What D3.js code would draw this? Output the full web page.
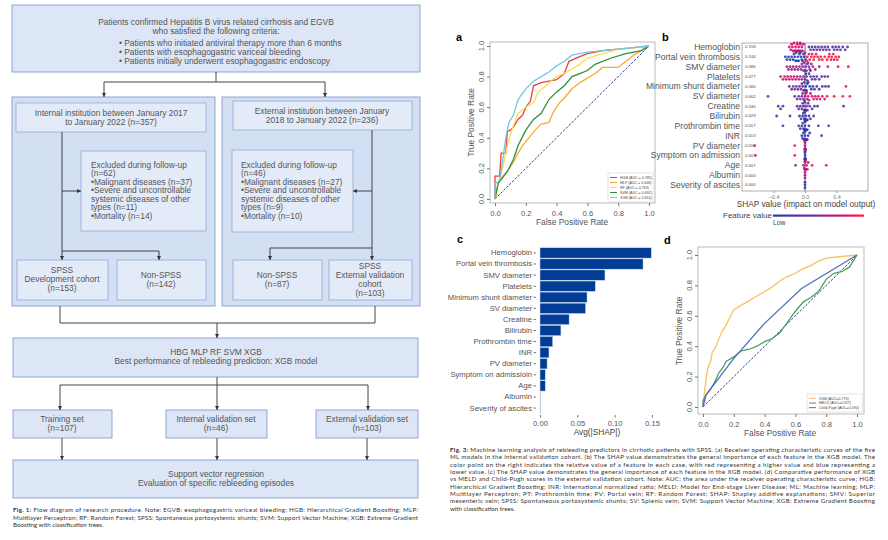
<!DOCTYPE html>
<html><head><meta charset="utf-8">
<script src="https://cdn.jsdelivr.net/npm/d3@7"></script>
<style>body{margin:0;background:#fff}svg{display:block}text{font-family:"Liberation Sans",Arial,sans-serif}</style>
</head><body><svg id="fig" width="888" height="540"></svg>
<script>
// ---- data ----
var rocModels = ["HGB", "MLP", "RF", "SVM", "XGB"];
var rocAucs = ["0.785", "0.648", "0.763", "0.692", "0.814"];
var rocColors = ["#ee3d3d", "#fba832", "#f7e04a", "#2f8f3f", "#72c8e2"];
var hgbRoc = [[0,0],[0,0.15],[0.03,0.15],[0.04,0.3],[0.07,0.3],[0.08,0.44],[0.1,0.45],[0.12,0.47],[0.15,0.52],[0.18,0.55],[0.2,0.6],[0.23,0.64],[0.25,0.74],[0.3,0.76],[0.35,0.77],[0.4,0.78],[0.45,0.82],[0.48,0.9],[0.55,0.93],[0.6,0.95],[0.7,0.97],[0.8,0.98],[0.9,0.99],[1,1]];
var mlpRoc = [[0,0],[0.02,0.1],[0.05,0.15],[0.08,0.18],[0.12,0.24],[0.15,0.3],[0.18,0.35],[0.22,0.4],[0.26,0.45],[0.3,0.49],[0.35,0.5],[0.38,0.57],[0.42,0.63],[0.45,0.66],[0.5,0.72],[0.55,0.76],[0.6,0.79],[0.65,0.82],[0.7,0.86],[0.8,0.86],[0.85,0.9],[0.9,0.94],[0.95,0.97],[1,1]];
var rfRoc = [[0,0],[0.02,0.1],[0.05,0.2],[0.08,0.35],[0.1,0.42],[0.12,0.48],[0.15,0.56],[0.2,0.6],[0.25,0.63],[0.28,0.7],[0.32,0.73],[0.35,0.76],[0.4,0.8],[0.45,0.82],[0.5,0.85],[0.55,0.88],[0.6,0.92],[0.7,0.95],[0.8,0.98],[0.9,0.99],[1,1]];
var svmRoc = [[0,0],[0.02,0.1],[0.05,0.14],[0.08,0.18],[0.12,0.26],[0.15,0.35],[0.2,0.45],[0.25,0.52],[0.3,0.56],[0.35,0.65],[0.4,0.7],[0.45,0.74],[0.5,0.8],[0.55,0.82],[0.6,0.84],[0.65,0.88],[0.75,0.92],[0.85,0.95],[0.95,0.97],[1,1]];
var xgbRoc = [[0,0],[0,0.1],[0.03,0.12],[0.05,0.25],[0.07,0.4],[0.09,0.5],[0.12,0.55],[0.15,0.65],[0.2,0.72],[0.25,0.77],[0.3,0.8],[0.35,0.83],[0.4,0.87],[0.45,0.9],[0.5,0.94],[0.6,0.96],[0.7,0.97],[0.8,0.98],[0.9,0.99],[1,1]];
var rocTicks = [0, 0.2, 0.4, 0.6, 0.8, 1.0];

var shapFeatures = ["Hemoglobin","Portal vein thrombosis","SMV diameter","Platelets","Minimum shunt diameter","SV diameter","Creatine","Bilirubin","Prothrombin time","INR","PV diameter","Symptom on admission","Age","Albumin","Severity of ascites"];
var shapMeans = ["0.158","0.144","0.086","0.077","0.066","0.062","0.040","0.029","0.017","0.013","0.010","0.007","0.007","0.000","0.000"];
// [shap value, normalised feature value]
var shapPoints = [
 [[-0.2,0.8],[-0.18,0.75],[-0.17,0.8],[-0.16,0.7],[-0.15,0.8],[-0.14,0.75],[-0.13,0.8],[-0.12,0.85],[-0.12,0.7],[-0.11,0.8],[-0.1,0.75],[-0.1,0.9],[-0.09,0.8],[-0.08,0.75],[-0.08,0.8],[-0.07,0.7],[-0.06,0.8],[-0.06,0.75],[-0.05,0.8],[-0.04,0.7],[-0.03,0.8],[-0.02,0.75],[0.05,0.35],[0.07,0.4],[0.09,0.35],[0.11,0.3],[0.13,0.35],[0.15,0.4],[0.17,0.35],[0.19,0.3],[0.21,0.35],[0.23,0.4],[0.25,0.35],[0.27,0.3],[0.29,0.35],[0.31,0.4],[0.35,0.35],[0.37,0.3],[0.39,0.35],[0.41,0.4],[0.43,0.35],[0.45,0.3],[0.48,0.35],[0.51,0.4],[0.54,0.35]],
 [[-0.25,0.05],[-0.23,0.05],[-0.21,0.08],[-0.19,0.05],[-0.17,0.05],[-0.15,0.06],[-0.14,0.05],[-0.13,0.05],[-0.12,0.08],[-0.11,0.05],[-0.1,0.05],[-0.09,0.06],[-0.08,0.05],[-0.07,0.05],[-0.06,0.08],[-0.05,0.05],[-0.04,0.05],[-0.03,0.1],[-0.02,0.05],[-0.01,0.05],[0,0.4],[0.01,0.5],[0.02,0.95],[0.03,0.95],[0.05,0.9],[0.06,0.95],[0.08,0.95],[0.09,0.9],[0.11,0.95],[0.12,0.95],[0.14,0.9],[0.16,0.95],[0.18,0.95],[0.2,0.9],[0.22,0.95],[0.25,0.95],[0.28,0.9],[0.3,0.95],[0.31,0.95],[0.33,0.9],[0.34,0.95],[0.36,0.95],[0.37,0.9],[0.39,0.95],[0.41,0.95],[0.43,0.9]],
 [[-0.23,0.6],[-0.21,0.65],[-0.19,0.6],[-0.17,0.55],[-0.15,0.6],[-0.13,0.65],[-0.11,0.6],[-0.09,0.55],[-0.07,0.6],[-0.05,0.5],[-0.04,0.6],[-0.03,0.55],[-0.02,0.5],[-0.01,0.6],[0,0.45],[0.01,0.5],[0.02,0.6],[0.03,0.45],[0.04,0.55],[0.05,0.5],[0.06,0.6],[0.07,0.45],[0.08,0.55],[0.1,0.6],[0.13,0.7],[0.18,0.6],[0.29,0.8],[0.42,0.85],[0.55,0.9]],
 [[-0.31,0.75],[-0.28,0.7],[-0.26,0.75],[-0.24,0.8],[-0.22,0.75],[-0.2,0.7],[-0.18,0.75],[-0.16,0.8],[-0.14,0.7],[-0.12,0.75],[-0.1,0.65],[-0.08,0.7],[-0.06,0.6],[-0.04,0.55],[-0.02,0.5],[0,0.35],[0.01,0.3],[0.02,0.35],[0.03,0.25],[0.05,0.3],[0.07,0.35],[0.09,0.25],[0.11,0.3],[0.13,0.2],[0.15,0.3],[0.18,0.25],[0.21,0.35],[0.25,0.3],[0.29,0.35]],
 [[-0.2,0.45],[-0.17,0.4],[-0.15,0.45],[-0.13,0.5],[-0.11,0.45],[-0.09,0.4],[-0.07,0.45],[-0.05,0.4],[-0.04,0.45],[-0.03,0.35],[-0.02,0.4],[-0.01,0.3],[0,0.15],[0.01,0.1],[0.02,0.15],[0.03,0.1],[0.04,0.15],[0.06,0.1],[0.08,0.15],[0.1,0.1],[0.12,0.2],[0.15,0.1],[0.18,0.15],[0.22,0.1],[0.26,0.2],[0.3,0.15],[0.52,0.95]],
 [[-0.47,0.2],[-0.13,0.45],[-0.1,0.4],[-0.08,0.45],[-0.06,0.5],[-0.04,0.45],[-0.03,0.5],[-0.02,0.45],[-0.01,0.55],[0,0.7],[0.01,0.75],[0.02,0.8],[0.03,0.7],[0.04,0.75],[0.05,0.85],[0.07,0.75],[0.09,0.8],[0.11,0.9],[0.13,0.75],[0.15,0.85],[0.17,0.9],[0.19,0.8],[0.22,0.9],[0.25,0.85],[0.28,0.9],[0.37,0.92],[0.48,0.95],[0.57,0.95]],
 [[-0.34,0.4],[-0.31,0.35],[-0.28,0.4],[-0.1,0.4],[-0.08,0.35],[-0.06,0.3],[-0.04,0.4],[-0.03,0.25],[-0.02,0.35],[-0.01,0.3],[0,0.25],[0,0.4],[0.01,0.3],[0.01,0.2],[0.02,0.35],[0.03,0.3],[0.04,0.25],[0.06,0.35],[0.09,0.3],[0.12,0.25],[0.16,0.35],[0.49,0.3]],
 [[-0.36,0.2],[-0.19,0.3],[-0.07,0.15],[-0.05,0.2],[-0.03,0.1],[-0.02,0.15],[-0.01,0.1],[0,0.15],[0,0.1],[0,0.2],[0.01,0.1],[0.01,0.15],[0.02,0.1],[0.03,0.15],[0.05,0.1],[0.07,0.2],[0.11,0.2]],
 [[-0.28,0.3],[-0.08,0.3],[-0.06,0.2],[-0.04,0.15],[-0.03,0.25],[-0.02,0.15],[-0.01,0.1],[0,0.15],[0,0.1],[0,0.2],[0.01,0.1],[0.01,0.15],[0.02,0.1],[0.03,0.2],[0.05,0.15],[0.17,0.35],[0.3,0.3]],
 [[-0.04,0.1],[-0.03,0.15],[-0.02,0.1],[-0.01,0.1],[0,0.1],[0,0.15],[0,0.1],[0,0.12],[0.01,0.1],[0.01,0.15],[0.02,0.1],[0.03,0.1],[0.04,0.15],[0.06,0.1],[0.21,0.15]],
 [[-0.64,0.92],[-0.13,0.95],[0,0.7],[0,0.72],[0,0.68],[0,0.7],[0,0.75],[0,0.7],[0.005,0.7],[0.005,0.68],[0.005,0.72],[0.005,0.7]],
 [[-0.63,0.9],[-0.13,0.92],[0,0.1],[0,0.12],[0,0.1],[0,0.08],[0,0.1],[0,0.12],[0.005,0.1],[0.005,0.1],[0.005,0.12],[0.005,0.1]],
 [[-0.12,0.45],[-0.02,0.7],[-0.01,0.75],[0,0.7],[0,0.65],[0,0.75],[0,0.7],[0.01,0.7],[0.01,0.75],[0.02,0.7],[0.03,0.8],[0.04,0.75],[0.09,0.9],[0.27,0.85]],
 [[0,0.7],[0,0.72],[0,0.7]],
 [[0,0.1],[0,0.1],[0,0.12]]
];
var shapTicks = [-0.4, 0, 0.4];

var barFeatures = ["Hemoglobin","Portal vein thrombosis","SMV diameter","Platelets","Minimum shunt diameter","SV diameter","Creatine","Bilirubin","Prothrombin time","INR","PV diameter","Symptom on admissioin","Age","Albumin","Severity of ascites"];
var barValues = [0.149, 0.138, 0.087, 0.074, 0.063, 0.061, 0.039, 0.028, 0.017, 0.012, 0.0095, 0.007, 0.007, 0.0004, 0.0004];
var barTicks = [0, 0.05, 0.10, 0.15];

var extModels = ["XGB (AUC=0.776)", "MELD (AUC=0.557)", "Child-Pugh (AUC=0.590)"];
var extColors = ["#fcc05e", "#4e9e5c", "#4d6fc6"];
var xgbExt = [[0,0],[0.01,0.1],[0.02,0.18],[0.03,0.25],[0.04,0.28],[0.05,0.3],[0.06,0.36],[0.08,0.39],[0.1,0.44],[0.12,0.49],[0.14,0.52],[0.16,0.56],[0.18,0.6],[0.2,0.64],[0.25,0.67],[0.3,0.7],[0.35,0.73],[0.4,0.76],[0.45,0.79],[0.5,0.83],[0.55,0.86],[0.6,0.88],[0.65,0.91],[0.7,0.93],[0.75,0.96],[0.8,0.98],[0.9,0.99],[1,1]];
var meldExt = [[0,0],[0,0.04],[0.02,0.08],[0.05,0.12],[0.08,0.17],[0.1,0.22],[0.13,0.26],[0.15,0.3],[0.2,0.33],[0.25,0.37],[0.3,0.38],[0.35,0.4],[0.4,0.43],[0.45,0.45],[0.5,0.49],[0.55,0.56],[0.6,0.63],[0.65,0.69],[0.7,0.72],[0.75,0.76],[0.8,0.84],[0.85,0.88],[0.9,0.89],[0.95,0.92],[1,1]];
var childExt = [[0,0],[0.02,0.08],[0.2,0.32],[0.4,0.55],[0.64,0.78],[0.82,0.89],[1,1]];

var fig1Caption = ["Flow diagram of research procedure. Note: EGVB: esophagogastric variceal bleeding; HGB: Hierarchical Gradient Boosting; MLP:",
 "Multilayer Perceptron; RF: Random Forest; SPSS: Spontaneous portosystemic shunts; SVM: Support Vector Machine; XGB: Extreme Gradient",
 "Boosting with classification trees."];
var fig3Caption = ["Machine learning analysis of rebleeding predictors in cirrhotic patients with SPSS. (a) Receiver operating characteristic curves of the five",
 "ML models in the internal validation cohort. (b) The SHAP value demonstrates the general importance of each feature in the XGB model. The",
 "color point on the right indicates the relative value of a feature in each case, with red representing a higher value and blue representing a",
 "lower value. (c) The SHAP value demonstrates the general importance of each feature in the XGB model. (d) Comparative performance of XGB",
 "vs MELD and Child-Pugh scores in the external validation cohort. Note: AUC; the area under the receiver operating characteristic curve; HGB:",
 "Hierarchical Gradient Boosting; INR: International normalized ratio; MELD: Model for End-stage Liver Disease; ML: Machine learning; MLP:",
 "Multilayer Perceptron; PT: Prothrombin time; PV: Portal vein; RF: Random Forest; SHAP: Shapley additive explanations; SMV: Superior",
 "mesenteric vein; SPSS: Spontaneous portosystemic shunts; SV: Splenic vein; SVM: Support Vector Machine; XGB: Extreme Gradient Boosting",
 "with classification trees."];

var svg = d3.select("#fig");
var txtGray = "#555";

// ---- Fig 1 flow diagram ----
var defs = svg.append("defs");
defs.append("marker").attr("id", "arr").attr("viewBox", "0 0 10 10").attr("refX", 10).attr("refY", 5)
    .attr("markerWidth", 4).attr("markerHeight", 4).attr("orient", "auto")
    .append("path").attr("d", "M0,0L10,5L0,10z").attr("fill", "#333");

var flow = svg.append("g");
var boxes = [
    { r: [12, 5, 408, 67], f: "#dde6f6", s: "#8fa4d6", cx: 216, lines: [[22, "Patients confirmed Hepatitis B virus related cirrhosis and EGVB"], [31, "who satisfied the following criteria:"]] },
    { r: [12, 97, 203, 209], f: "#d3dff3", s: "#8fa4d6" },
    { r: [222, 97, 198, 209], f: "#d3dff3", s: "#8fa4d6" },
    { r: [16, 103, 190, 29], f: "#e4ebf8", s: "#a2b4de", cx: 111, lines: [[113, "Internal institution between January 2017"], [122, "to January 2022 (n=357)"]] },
    { r: [233, 101, 179, 29], f: "#e4ebf8", s: "#a2b4de", cx: 322, lines: [[111, "External institution between January"], [120, "2018 to January 2022 (n=236)"]] },
    { r: [81, 151, 125, 80], f: "#e4ebf8", s: "#a2b4de", lx: 91, lines: [[165, "Excluded during follow-up"], [173.5, "(n=62)"], [182, "•Malignant diseases (n=37)"], [190.5, "•Severe and uncontrollable"], [199, "systemic diseases of other"], [207.5, "types (n=11)"], [216, "•Mortality (n=14)"]] },
    { r: [232, 150, 121, 82], f: "#e4ebf8", s: "#a2b4de", lx: 241, lines: [[165, "Excluded during follow-up"], [173.5, "(n=46)"], [182, "•Malignant diseases (n=27)"], [190.5, "•Severe and uncontrollable"], [199, "systemic diseases of other"], [207.5, "types (n=9)"], [216, "•Mortality (n=10)"]] },
    { r: [17, 260, 91, 40], f: "#e4ebf8", s: "#a2b4de", cx: 62, lines: [[270, "SPSS"], [279, "Development cohort"], [288, "(n=153)"]] },
    { r: [117, 260, 89, 40], f: "#e4ebf8", s: "#a2b4de", cx: 161, lines: [[275, "Non-SPSS"], [284, "(n=142)"]] },
    { r: [233, 260, 89, 40], f: "#e4ebf8", s: "#a2b4de", cx: 277, lines: [[275, "Non-SPSS"], [284, "(n=87)"]] },
    { r: [329, 260, 83, 40], f: "#e4ebf8", s: "#a2b4de", cx: 370, lines: [[266, "SPSS"], [275, "External validation"], [284, "cohort"], [293, "(n=103)"]] },
    { r: [13, 338, 405, 39], f: "#dde6f6", s: "#8fa4d6", cx: 216, lines: [[352, "HBG MLP RF SVM XGB"], [361, "Best performance of rebleeding prediction: XGB model"]] },
    { r: [13, 410, 99, 28], f: "#dde6f6", s: "#8fa4d6", cx: 62, lines: [[419, "Training set"], [428, "(n=107)"]] },
    { r: [166, 410, 101, 28], f: "#dde6f6", s: "#8fa4d6", cx: 216, lines: [[419, "Internal validation set"], [428, "(n=46)"]] },
    { r: [316, 410, 102, 28], f: "#dde6f6", s: "#8fa4d6", cx: 367, lines: [[419, "External validation set"], [428, "(n=103)"]] },
    { r: [13, 460, 405, 38], f: "#dde6f6", s: "#8fa4d6", cx: 216, lines: [[474, "Support vector regression"], [483, "Evaluation of specific rebleeding episodes"]] }
];
boxes.forEach(function (b) {
    flow.append("rect").attr("x", b.r[0]).attr("y", b.r[1]).attr("width", b.r[2]).attr("height", b.r[3])
        .attr("fill", b.f).attr("stroke", b.s).attr("stroke-width", 1);
    (b.lines || []).forEach(function (l) {
        flow.append("text").attr("x", b.lx || b.cx).attr("y", l[0]).attr("dy", "0.35em")
            .attr("text-anchor", b.lx ? "start" : "middle").attr("font-size", 8.4).attr("fill", txtGray).text(l[1]);
    });
});
["• Patients who initiated antiviral therapy more than 6 months", "• Patients with esophagogastric variceal bleeding", "• Patients initially underwent esophagogastric endoscopy"]
    .forEach(function (s, i) {
        flow.append("text").attr("x", 119).attr("y", 43.5 + i * 8.6).attr("dy", "0.35em").attr("font-size", 8.4).attr("fill", txtGray).text(s);
    });
var links = [
    ["M216,72V82M104,82H325", 0], ["M104,82V97", 1], ["M325,82V97", 1],
    ["M62,132V251H159", 0], ["M62,191H81", 1], ["M62,251V260", 1], ["M159,251V260", 1],
    ["M372,130V248H270", 0], ["M372,191H353", 1], ["M270,248V260", 1], ["M372,248V260", 1],
    ["M60,306V323H375V306", 0], ["M217,323V338", 1],
    ["M217,377V385M60,385H368", 0], ["M60,385V410", 1], ["M217,385V410", 1], ["M368,385V410", 1],
    ["M62,438V460", 1], ["M217,438V460", 1], ["M367,438V460", 1]
];
links.forEach(function (l) {
    flow.append("path").attr("d", l[0]).attr("fill", "none").attr("stroke", "#444").attr("stroke-width", 1)
        .attr("marker-end", l[1] ? "url(#arr)" : null);
});

// justified caption helper
function caption(x, y0, w, lh, label, lines) {
    lines.forEach(function (s, i) {
        var t = svg.append("text").attr("x", x).attr("y", y0 + i * lh).attr("font-size", 6.2)
            .attr("fill", "#333").style("font-family", "Lato, 'Open Sans', sans-serif");
        if (i === 0) t.append("tspan").attr("font-weight", "bold").text(label + " ");
        t.append("tspan").text(s);
        if (i < lines.length - 1) t.attr("textLength", w).attr("lengthAdjust", "spacing");
    });
}
caption(13, 512, 405, 7.7, "Fig. 1:", fig1Caption);
caption(450, 452, 425, 7.35, "Fig. 3:", fig3Caption);

// ---- ROC panel helper ----
function rocPanel(frame, xr, yr, series, colors, names, legendBox, lw) {
    var g = svg.append("g");
    var x = d3.scaleLinear().domain([0, 1]).range(xr);
    var y = d3.scaleLinear().domain([0, 1]).range(yr);
    g.append("rect").attr("x", frame[0]).attr("y", frame[1]).attr("width", frame[2] - frame[0]).attr("height", frame[3] - frame[1])
        .attr("fill", "none").attr("stroke", "#aaa").attr("stroke-width", 0.8);
    var xa = g.append("g").attr("transform", "translate(0," + frame[3] + ")")
        .call(d3.axisBottom(x).tickValues(rocTicks).tickSize(3).tickFormat(d3.format(".1f")));
    var ya = g.append("g").attr("transform", "translate(" + frame[0] + ",0)")
        .call(d3.axisLeft(y).tickValues(rocTicks).tickSize(3).tickFormat(""));
    [xa, ya].forEach(function (a) {
        a.select(".domain").remove();
        a.selectAll("line").attr("stroke", "#777");
        a.selectAll("text").attr("fill", txtGray).attr("font-size", 7.6).style("font-family", "'Liberation Sans',Arial");
    });
    xa.selectAll("text").attr("dy", "0.9em");
    rocTicks.forEach(function (v) {
        g.append("text").attr("transform", "translate(" + (frame[0] - 6) + "," + y(v) + ") rotate(-90)")
            .attr("text-anchor", "middle").attr("font-size", 7.6).attr("fill", txtGray).text(d3.format(".1f")(v));
    });
    g.append("text").attr("x", (xr[0] + xr[1]) / 2).attr("y", frame[3] + 22).attr("text-anchor", "middle")
        .attr("font-size", 8.4).attr("fill", txtGray).text("False Positive Rate");
    g.append("text").attr("transform", "translate(" + (frame[0] - 16) + "," + (yr[0] + yr[1]) / 2 + ") rotate(-90)")
        .attr("text-anchor", "middle").attr("font-size", 8.4).attr("fill", txtGray).text("True Positive Rate");
    g.append("line").attr("x1", x(0)).attr("y1", y(0)).attr("x2", x(1)).attr("y2", y(1))
        .attr("stroke", "#2c3e8f").attr("stroke-width", 1).attr("stroke-dasharray", "2.5,1.5");
    var line = d3.line().x(function (d) { return x(d[0]); }).y(function (d) { return y(d[1]); });
    series.forEach(function (s, i) {
        g.append("path").datum(s).attr("d", line).attr("fill", "none").attr("stroke", colors[i]).attr("stroke-width", lw);
    });
    var lg = g.append("g");
    lg.append("rect").attr("x", legendBox[0]).attr("y", legendBox[1]).attr("width", legendBox[2]).attr("height", legendBox[3])
        .attr("fill", "#fff").attr("stroke", "#ccc").attr("stroke-width", 0.5);
    var step = (legendBox[3] - 4) / names.length;
    names.forEach(function (n, i) {
        var yy = legendBox[1] + 2 + step * (i + 0.5);
        lg.append("line").attr("x1", legendBox[0] + 2).attr("x2", legendBox[0] + 9).attr("y1", yy).attr("y2", yy)
            .attr("stroke", colors[i]).attr("stroke-width", 1);
        lg.append("text").attr("x", legendBox[0] + 12).attr("y", yy).attr("dy", "0.35em").attr("font-size", 3.6)
            .attr("fill", "#444").text(n);
    });
}

// panel a
svg.append("text").attr("x", 456).attr("y", 41).attr("font-size", 11).attr("font-weight", "bold").text("a");
rocPanel([490, 42, 655, 203], [495, 649], [199, 46], [hgbRoc, mlpRoc, rfRoc, svmRoc, xgbRoc], rocColors,
    rocModels.map(function (m, i) { return m + " (AUC = " + rocAucs[i] + ")"; }), [608, 173, 45, 29], 1.3);

// panel d
svg.append("text").attr("x", 664).attr("y", 244).attr("font-size", 11).attr("font-weight", "bold").text("d");
rocPanel([698, 247, 864, 414], [703, 857], [407, 255], [xgbExt, meldExt, childExt], extColors, extModels, [807, 394, 55, 18], 1.3);

// ---- panel b: SHAP beeswarm ----
svg.append("text").attr("x", 662).attr("y", 41).attr("font-size", 11).attr("font-weight", "bold").text("b");
var bg = svg.append("g");
var sx = d3.scaleLinear().domain([-0.8, 0.8]).range([742, 868]);
var sy = d3.scalePoint().domain(shapFeatures).range([47, 185]);
var shapColor = d3.scaleLinear().domain([0, 0.5, 0.75, 1]).range(["#1e3fae", "#7d2c9c", "#cc0f78", "#ff1e3a"]);
bg.append("rect").attr("x", 742).attr("y", 43).attr("width", 126).attr("height", 148).attr("fill", "none").attr("stroke", "#999").attr("stroke-width", 0.8);
bg.append("line").attr("x1", sx(0)).attr("x2", sx(0)).attr("y1", 43).attr("y2", 191).attr("stroke", "#888").attr("stroke-width", 1.2);
var sax = bg.append("g").attr("transform", "translate(0,191)").call(d3.axisBottom(sx).tickValues(shapTicks).tickSize(2).tickFormat(d3.format(".1f")));
sax.select(".domain").remove();
sax.selectAll("line").attr("stroke", "#999");
sax.selectAll("text").attr("fill", "#777").attr("font-size", 5.5).attr("dy", "0.5em");
bg.append("text").attr("x", 806).attr("y", 207).attr("text-anchor", "middle").attr("font-size", 8.3).attr("fill", "#444").text("SHAP value (impact on model output)");
shapFeatures.forEach(function (f, i) {
    bg.append("text").attr("x", 740).attr("y", sy(f)).attr("dy", "0.35em").attr("text-anchor", "end")
        .attr("font-size", 8.6).attr("fill", txtGray).text(f);
    bg.append("text").attr("x", 745).attr("y", sy(f)).attr("dy", "0.35em").attr("font-size", 4.2).attr("fill", "#444").text(shapMeans[i]);
    // simple swarm placement
    var r = 1.4, placed = [];
    shapPoints[i].slice().sort(function (a, b) { return a[0] - b[0]; }).forEach(function (p) {
        var px = sx(p[0]), off = 0, k = 0;
        while (k < 12) {
            off = (k % 2 ? 1 : -1) * Math.ceil(k / 2) * r * 1.0;
            var hit = placed.some(function (q) { return Math.abs(q[0] - px) < 2 * r * 0.85 && Math.abs(q[1] - off) < 2 * r * 0.7; });
            if (!hit) break;
            k++;
        }
        off = Math.max(-4, Math.min(4, off));
        placed.push([px, off]);
        bg.append("circle").attr("cx", px).attr("cy", sy(f) + off).attr("r", r).attr("fill", shapColor(p[1])).attr("fill-opacity", 0.9);
    });
});
var grad = defs.append("linearGradient").attr("id", "fvgrad");
[[0, "#1e3fae"], [0.5, "#7d2c9c"], [0.75, "#cc0f78"], [1, "#ff1e3a"]].forEach(function (s) {
    grad.append("stop").attr("offset", s[0]).attr("stop-color", s[1]);
});
bg.append("text").attr("x", 723).attr("y", 218).attr("font-size", 8).attr("fill", "#444").text("Feature value");
bg.append("rect").attr("x", 773).attr("y", 214.5).attr("width", 91).attr("height", 2.2).attr("fill", "url(#fvgrad)");
bg.append("text").attr("x", 773).attr("y", 225).attr("font-size", 6.8).attr("fill", "#444").text("Low");

// ---- panel c: mean |SHAP| bars ----
svg.append("text").attr("x", 457).attr("y", 243).attr("font-size", 11).attr("font-weight", "bold").text("c");
var cg = svg.append("g");
var cx = d3.scaleLinear().domain([0, 0.15]).range([540, 652]);
var cy = d3.scaleBand().domain(barFeatures).range([247, 414]).padding(0.07);
cg.selectAll("rect.bar").data(barFeatures).enter().append("rect").attr("class", "bar")
    .attr("x", cx(0)).attr("y", function (d) { return cy(d); })
    .attr("width", function (d, i) { return cx(barValues[i]) - cx(0); }).attr("height", cy.bandwidth())
    .attr("fill", "#013c95").attr("stroke", "#c9d6ee").attr("stroke-width", 0.5);
var cya = cg.append("g").attr("transform", "translate(536,0)").call(d3.axisLeft(cy).tickSize(2.5).tickPadding(1.5));
cya.select(".domain").remove();
cya.selectAll("line").attr("stroke", "#777");
cya.selectAll("text").attr("fill", txtGray).attr("font-size", 7.7).style("font-family", "'Liberation Sans',Arial");
var cxa = cg.append("g").attr("transform", "translate(0,415)").call(d3.axisBottom(cx).tickValues(barTicks).tickSize(2.5).tickFormat(d3.format(".2f")));
cxa.select(".domain").remove();
cxa.selectAll("line").attr("stroke", "#777");
cxa.selectAll("text").attr("fill", txtGray).attr("font-size", 7.6).style("font-family", "'Liberation Sans',Arial");
cg.append("text").attr("x", 597).attr("y", 435).attr("text-anchor", "middle").attr("font-size", 8.3).attr("fill", "#444").text("Avg(|SHAP|)");
</script></body></html>
